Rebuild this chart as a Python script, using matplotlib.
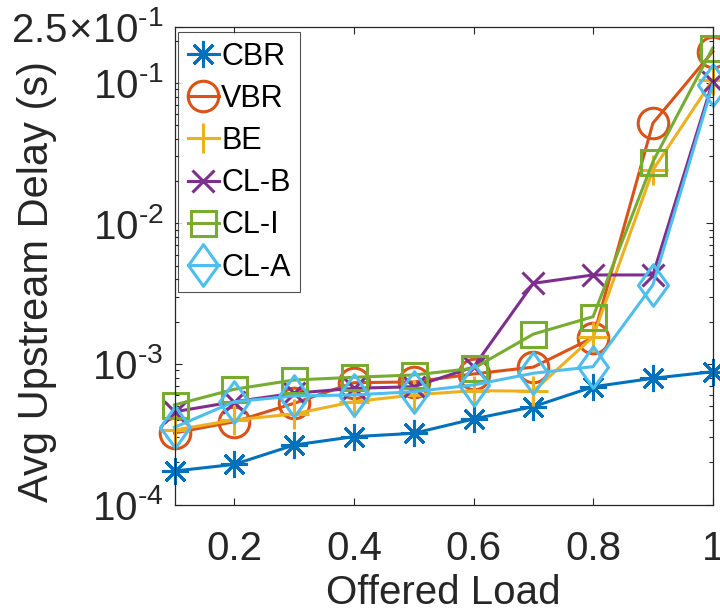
import matplotlib
matplotlib.use("Agg")
import matplotlib.pyplot as plt
from matplotlib.path import Path
from matplotlib.ticker import LogLocator, NullFormatter, FixedLocator, FixedFormatter

# Offered load levels and average upstream delay (seconds) per traffic class
load = [0.1, 0.2, 0.3, 0.4, 0.5, 0.6, 0.7, 0.8, 0.9, 1.0]
cbr = [1.73e-4, 1.93e-4, 2.65e-4, 3.04e-4, 3.21e-4, 4.06e-4, 4.97e-4, 6.88e-4, 7.91e-4, 8.81e-4]
vbr = [3.23e-4, 3.88e-4, 5.25e-4, 7.36e-4, 7.45e-4, 8.49e-4, 9.5e-4, 1.54e-3, 5.17e-2, 0.167]
be = [3.39e-4, 3.99e-4, 4.41e-4, 5.39e-4, 6.02e-4, 6.46e-4, 6.4e-4, 1.56e-3, 2.40e-2, 0.105]
cl_b = [4.57e-4, 5.39e-4, 6.19e-4, 6.71e-4, 6.89e-4, 9.5e-4, 3.75e-3, 4.3e-3, 4.3e-3, 0.102]
cl_i = [5.11e-4, 6.61e-4, 7.69e-4, 8.04e-4, 8.35e-4, 9.31e-4, 1.63e-3, 2.17e-3, 2.75e-2, 0.177]
cl_a = [3.54e-4, 5.39e-4, 5.92e-4, 6.02e-4, 6.35e-4, 7.09e-4, 8.59e-4, 9.57e-4, 3.65e-3, 0.097]

names = ["CBR", "VBR", "BE", "CL-B", "CL-I", "CL-A"]
xticks = [0.2, 0.4, 0.6, 0.8, 1.0]
xtick_labels = ["0.2", "0.4", "0.6", "0.8", "1"]
yticks = [1e-4, 1e-3, 1e-2, 1e-1, 0.25]
ytick_labels = [r"$10^{\text{-}4}$", r"$10^{\text{-}3}$", r"$10^{\text{-}2}$",
                r"$10^{\text{-}1}$", r"$2.5\!\times\!10^{\text{-}1}$"]

plt.rcParams["font.family"] = ["Liberation Sans", "DejaVu Sans"]
plt.rcParams["mathtext.fontset"] = "custom"
plt.rcParams["mathtext.rm"] = "Liberation Sans"
plt.rcParams["mathtext.it"] = "Liberation Sans:italic"
plt.rcParams["mathtext.bf"] = "Liberation Sans:bold"

# tall diamond marker
tall_diamond = Path([(0, 1), (0.72, 0), (0, -1), (-0.72, 0), (0, 1)],
                    [Path.MOVETO, Path.LINETO, Path.LINETO, Path.LINETO, Path.CLOSEPOLY])

styles = [
    dict(color="#0072BD", marker=(8, 2, 0), ms=19.5),
    dict(color="#D95319", marker="o", ms=22),
    dict(color="#EDB120", marker="+", ms=22),
    dict(color="#7E2F8E", marker="x", ms=16),
    dict(color="#77AC30", marker="s", ms=18),
    dict(color="#4DBEEE", marker=tall_diamond, ms=30),
]

fig = plt.figure(figsize=(7.2, 6.13), dpi=100)
ax = fig.add_axes([174.5 / 720, 1 - 504.5 / 613, (712.7 - 174.5) / 720, (504.5 - 27) / 613])

series = [cbr, vbr, be, cl_b, cl_i, cl_a]
for name, vals, st in zip(names, series, styles):
    ax.plot(load, vals, color=st["color"], marker=st["marker"], markersize=st["ms"],
            markerfacecolor="none", markeredgecolor=st["color"], markeredgewidth=2.2,
            linewidth=2.2, clip_on=False, label=name)

ax.set_yscale("log")
ax.set_xlim(0.1, 1.0)
ax.set_ylim(1e-4, 0.25)

ax.xaxis.set_major_locator(FixedLocator(xticks))
ax.xaxis.set_major_formatter(FixedFormatter(xtick_labels))
ax.yaxis.set_major_locator(FixedLocator(yticks))
ax.yaxis.set_major_formatter(FixedFormatter(ytick_labels))
ax.yaxis.set_minor_locator(LogLocator(base=10, subs=[2, 3, 4, 5, 6, 7, 8, 9], numticks=20))
ax.yaxis.set_minor_formatter(NullFormatter())

dark = "#262626"
ax.tick_params(which="both", direction="in", top=True, right=True, colors=dark,
               labelcolor=dark, labelsize=29, width=0.8)
ax.tick_params(which="major", length=5)
ax.tick_params(axis="x", which="major", pad=18)
ax.tick_params(axis="y", which="major", pad=8)
ax.tick_params(which="minor", length=3)
for sp in ax.spines.values():
    sp.set_color(dark)
    sp.set_linewidth(0.9)

ax.set_xlabel("Offered Load", fontsize=29, color=dark, va="center")
ax.xaxis.set_label_coords(0.5, (504.5 - 593) / 477.5)
ax.set_ylabel("Avg Upstream Delay (s)", fontsize=30, color=dark, va="center")
ax.yaxis.set_label_coords((37 - 174.5) / 538.2, (504.5 - 281) / 477.5)

leg = ax.legend(loc="upper left", bbox_to_anchor=(0.007, 0.990), borderaxespad=0,
                fontsize=22, handlelength=1.0, handletextpad=0.08, labelspacing=0.40,
                borderpad=0.32, frameon=True, fancybox=False, edgecolor=dark)
leg.get_frame().set_linewidth(0.8)

fig.savefig("out.png", dpi=100)
